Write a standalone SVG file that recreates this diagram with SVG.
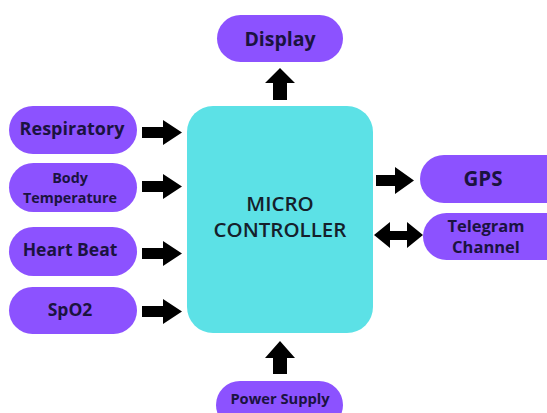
<svg xmlns="http://www.w3.org/2000/svg" width="547" height="413" viewBox="0 0 547 413">
<style>
.pill{fill:#8c52ff}
.t{font-family:"Open Sans","DejaVu Sans",sans-serif;font-weight:700;fill:#1b1340;text-anchor:middle}
.mc{fill:#5ce1e6}
.mct{font-family:"Open Sans","DejaVu Sans",sans-serif;font-weight:600;fill:#15202b;text-anchor:middle;font-size:20.5px}
.arr{fill:#000}
</style>
<rect width="547" height="413" fill="#fff"/>
<g id="microcontroller">
<rect class="mc" x="187" y="106" width="186" height="227" rx="26"/>
<text class="mct" x="280" y="211">MICRO</text>
<text class="mct" x="280" y="237">CONTROLLER</text>
</g>
<g id="display">
<rect class="pill" x="217" y="15" width="126" height="47" rx="23.5"/>
<text class="t" x="280" y="46" font-size="19.5">Display</text>
</g>
<g id="respiratory">
<rect class="pill" x="9" y="106" width="128" height="48" rx="24"/>
<text class="t" x="72" y="135" font-size="18">Respiratory</text>
</g>
<g id="body-temperature">
<rect class="pill" x="9" y="163" width="128" height="49" rx="24.5"/>
<text class="t" x="70" y="183" font-size="14.3">Body</text>
<text class="t" x="70" y="202.5" font-size="14.3">Temperature</text>
</g>
<g id="heart-beat">
<rect class="pill" x="9" y="227" width="128" height="49" rx="24.5"/>
<text class="t" x="70" y="256" font-size="17.5">Heart Beat</text>
</g>
<g id="spo2">
<rect class="pill" x="9" y="287" width="128" height="47" rx="23.5"/>
<text class="t" x="70" y="316" font-size="17.5">SpO2</text>
</g>
<g id="gps">
<rect class="pill" x="420" y="155" width="152" height="48" rx="24"/>
<text class="t" x="483" y="186" font-size="20.5">GPS</text>
</g>
<g id="telegram-channel">
<rect class="pill" x="423" y="213" width="150" height="47" rx="23.5"/>
<text class="t" x="486" y="232" font-size="16.5">Telegram</text>
<text class="t" x="486" y="253" font-size="16.5">Channel</text>
</g>
<g id="power-supply">
<rect class="pill" x="216" y="381" width="127" height="48" rx="24"/>
<text class="t" x="280" y="404" font-size="14.7">Power Supply</text>
</g>
<g id="connectors">
<polygon class="arr" points="273,100 273,83 265,83 280,68 295,83 287,83 287,100"/>
<polygon class="arr" points="142,127 163,127 163,120 182,132.5 163,145 163,138 142,138"/>
<polygon class="arr" points="142,181 163,181 163,174 182,186.5 163,199 163,192 142,192"/>
<polygon class="arr" points="142,248 163,248 163,241 182,253.5 163,266 163,259 142,259"/>
<polygon class="arr" points="142,306 163,306 163,299 182,311.5 163,324 163,317 142,317"/>
<polygon class="arr" points="376,175 395,175 395,167 414,180.5 395,194 395,186 376,186"/>
<polygon class="arr" points="374,235 390,222 390,231 407,231 407,222 423,235 407,248 407,240 390,240 390,248"/>
<polygon class="arr" points="273,374 273,358 265,358 280,341 295,358 287,358 287,374"/>
</g>
</svg>
